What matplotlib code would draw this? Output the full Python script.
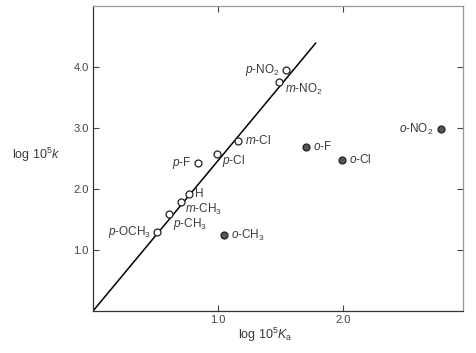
import matplotlib
matplotlib.use('Agg')
import matplotlib.pyplot as plt

# substituents on the line (meta / para) -- open circles
openNames = ['p-NO2', 'm-NO2', 'm-Cl', 'p-Cl', 'p-F', 'H', 'm-CH3', 'p-CH3', 'p-OCH3']
openLogKa = [1.54, 1.49, 1.16, 0.99, 0.84, 0.77, 0.70, 0.61, 0.51]
openLogK = [3.95, 3.75, 2.79, 2.58, 2.42, 1.92, 1.78, 1.59, 1.30]

# ortho substituents -- filled circles
orthoNames = ['o-NO2', 'o-F', 'o-Cl', 'o-CH3']
orthoLogKa = [2.78, 1.70, 1.99, 1.05]
orthoLogK = [2.98, 2.69, 2.48, 1.24]

# fitted line end points
lineX = [0.0, 1.78]
lineY = [0.0, 4.39]

xTicks = [1.0, 2.0]
yTicks = [1.0, 2.0, 3.0, 4.0]

# label placement in points relative to each marker (dx, dy, ha)
labelPos = {
    'p-NO2': (-4, 0, 'right'), 'm-NO2': (4, -5, 'left'), 'm-Cl': (5, 0, 'left'),
    'p-Cl': (4, -5, 'left'), 'p-F': (-5, 0, 'right'), 'H': (4, 0, 'left'),
    'm-CH3': (3, -5, 'left'), 'p-CH3': (3, -7, 'left'), 'p-OCH3': (-4, 0, 'right'),
    'o-NO2': (-5, 0, 'right'), 'o-F': (5, 0, 'left'), 'o-Cl': (5, 0, 'left'),
    'o-CH3': (5, 0, 'left'),
}

plt.rcParams['font.family'] = ['Liberation Sans', 'DejaVu Sans']
plt.rcParams['mathtext.fontset'] = 'custom'
plt.rcParams['mathtext.rm'] = 'Liberation Sans'
plt.rcParams['mathtext.it'] = 'Liberation Sans:italic'

textColor = '#3a3a3a'


def niceLabel(name):
    # "p-NO2" -> italic prefix and subscript digits
    prefix, rest = name.split('-') if '-' in name else ('', name)
    rest = rest.replace('2', '$_2$').replace('3', '$_3$')
    if prefix:
        return '$\\it{' + prefix + '}$-' + rest
    return rest


fig = plt.figure(figsize=(4.77, 3.53), dpi=100)
ax = fig.add_axes([0.195, 0.119, 0.776, 0.864])

ax.plot(lineX, lineY, color='black', lw=1.1, zorder=2)
ax.plot(openLogKa, openLogK, 'o', ms=5, mfc='white', mec='#222222', mew=0.9, ls='none', zorder=3)
ax.plot(orthoLogKa, orthoLogK, 'o', ms=5, mfc='#555555', mec='#222222', mew=0.9, ls='none', zorder=3)

for names, xs, ys in [(openNames, openLogKa, openLogK), (orthoNames, orthoLogKa, orthoLogK)]:
    for n, x, y in zip(names, xs, ys):
        dx, dy, ha = labelPos[n]
        ax.annotate(niceLabel(n), (x, y), xytext=(dx, dy), textcoords='offset points',
                    ha=ha, va='center', fontsize=8.5, color=textColor)

ax.set_xlim(0, 2.96)
ax.set_ylim(0, 5.0)
ax.set_xticks(xTicks)
ax.set_yticks(yTicks)
ax.set_xticklabels(['%.1f' % t for t in xTicks])
ax.set_yticklabels(['%.1f' % t for t in yTicks])
ax.tick_params(direction='in', length=4, width=0.8, labelsize=8, colors='#444444',
               top=True, right=True, pad=3)

for side in ['left', 'bottom']:
    ax.spines[side].set_color('#333333')
    ax.spines[side].set_linewidth(0.9)
for side in ['top', 'right']:
    ax.spines[side].set_color('#999999')
    ax.spines[side].set_linewidth(0.9)

fig.text(0.556, 0.051, 'log 10$^5$$\\it{K}$$_\\mathrm{a}$', fontsize=9, color=textColor,
         ha='center', va='center')
fig.text(0.025, 0.561, 'log 10$^5$$\\it{k}$', fontsize=9, color=textColor, ha='left', va='center')

fig.savefig('out.png', dpi=100)
